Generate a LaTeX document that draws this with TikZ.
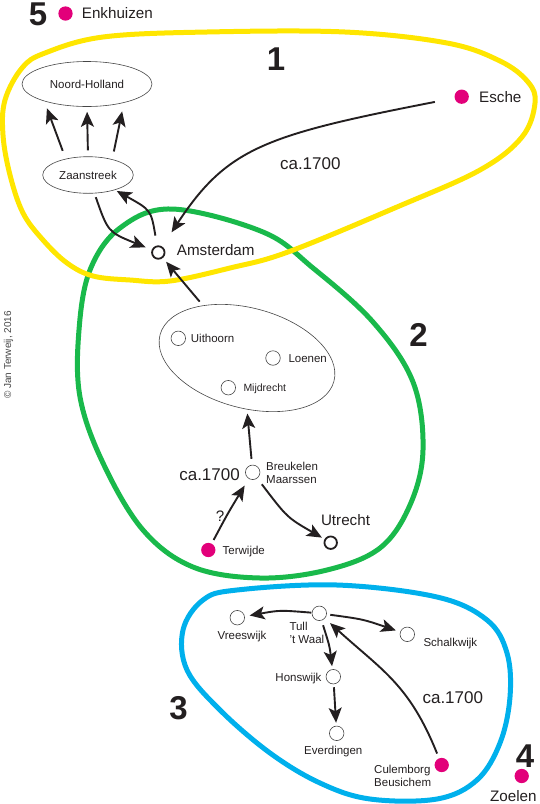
\documentclass[tikz,border=0pt]{standalone}
\usepackage{fontspec}
\setmainfont{Liberation Sans}
\usetikzlibrary{arrows.meta,shapes.geometric}
\definecolor{ylw}{RGB}{255,230,0}
\definecolor{grn}{RGB}{25,185,75}
\definecolor{blu}{RGB}{0,176,236}
\definecolor{mag}{RGB}{226,0,122}
\definecolor{ink}{RGB}{35,31,32}
\definecolor{ink2}{RGB}{70,70,70}
\begin{document}
\begin{tikzpicture}[x=1pt,y=-1pt,
  lbl/.style={inner sep=0pt, text=ink},
  sm/.style={lbl, font=\fontsize{11.5}{13}\selectfont, text height=8.2pt, text depth=0pt},
  sml/.style={lbl, font=\fontsize{11.5}{12.7}\selectfont, align=left},
  smc/.style={lbl, font=\fontsize{10.5}{12}\selectfont, text height=7.5pt, text depth=0pt},
  big/.style={lbl, font=\fontsize{15.2}{18}\selectfont, text height=10.9pt, text depth=0pt},
  ca/.style={lbl, font=\fontsize{17}{20}\selectfont, text height=12.2pt, text depth=0pt},
  num/.style={lbl, font=\fontsize{33}{36}\selectfont\bfseries, text height=23.6pt, text depth=0pt},
  ell/.style={ellipse, draw=ink2, line width=0.6pt, inner sep=1pt, text=ink, font=\fontsize{11.5}{13}\selectfont},
  oc/.style={circle, draw=ink2, line width=0.6pt, minimum size=14.5pt, inner sep=0pt},
  ocb/.style={circle, draw=ink, line width=1.8pt, minimum size=12.5pt, inner sep=0pt},
  dot/.style={circle, fill=mag, minimum size=14.3pt, inner sep=0pt},
  arr/.style={draw=ink, line width=1.9pt, -{Stealth[length=15pt,width=13pt,inset=3.5pt]}},
  loop/.style={line width=5pt}
]
\useasboundingbox (0,0) rectangle (540,804);

% loops
\draw[loop, grn] plot[smooth cycle, tension=0.6] coordinates {(172,209) (263,232) (313,268) (373,322) (413,382) (423,450) (410,505) (380,548) (327,570) (260,578) (193,567) (143,530) (103,463) (80,397) (79,330) (90,270) (120,228)};
\draw[loop, ylw] plot[smooth cycle, tension=0.6] coordinates {(5,100) (22,68) (45,53) (103,37) (207,32) (345,32) (447,43) (500,61) (528,82) (535,103) (522,137) (480,170) (397,207) (288,252) (230,268) (170,281) (130,280) (93,276) (67,263) (43,240) (23,213) (10,175) (3,135)};
\draw[loop, blu] plot[smooth cycle, tension=0.6] coordinates {(237,590) (337,585) (437,597) (487,620) (507,653) (510,697) (500,743) (477,780) (437,799) (370,799) (320,783) (270,753) (220,710) (187,670) (183,630) (203,600)};

% region 1
\node[num] (n5) at (38,13.5) {5};
\node[dot] (enk) at (65.5,13.5) {};
\node[big, anchor=west] (enkl) at (81.7,13.5) {Enkhuizen};
\node[num] (n1) at (276,58.5) {1};
\node[dot] (esche) at (461.7,96.7) {};
\node[big, anchor=west] (eschel) at (479,96.7) {Esche};
\node[ell, minimum width=130pt, minimum height=45pt] (nh) at (87,84) {Noord-Holland};
\node[ell, minimum width=90.6pt, minimum height=36.6pt] (zaan) at (88,175) {Zaanstreek};
\node[ca] (ca1) at (310.3,163.7) {ca.1700};
\node[ocb] (ams) at (158.3,252.5) {};
\node[big, anchor=west] (amsl) at (176.7,250.5) {Amsterdam};

% region 2
\node[ell, minimum width=180pt, minimum height=100pt, rotate=-15] (reg) at (247,358) {};
\node[oc] (uit) at (178.3,338.3) {};
\node[sm, anchor=west] (uitl) at (190.7,338) {Uithoorn};
\node[oc] (loe) at (273,358) {};
\node[sm, anchor=west] (loel) at (288.3,358) {Loenen};
\node[oc] (mij) at (228.3,387.7) {};
\node[smc, anchor=west] (mijl) at (243.3,388) {Mijdrecht};
\node[num] (n2) at (418.5,335) {2};
\node[oc] (bk) at (252.7,472.3) {};
\node[sml, anchor=north west] (bkl) at (266,461.8) {Breukelen\\Maarssen};
\node[ca, anchor=east] (ca2) at (240,474.7) {ca.1700};
\node[dot] (terw) at (208.3,550) {};
\node[sm, anchor=west] (terwl) at (222.5,550.7) {Terwijde};
\node[big] (q) at (220,516.5) {?};
\node[ocb] (utr) at (330.7,542.7) {};
\node[big] (utrl) at (345.5,520) {Utrecht};

% region 3
\node[num] (n3) at (178.5,707.5) {3};
\node[oc] (tull) at (319.3,613.3) {};
\node[sml, anchor=north west] (tulll) at (289.3,621.8) {Tull\\'t Waal};
\node[oc] (vrees) at (237.3,617.7) {};
\node[sm] (vreesl) at (242,635) {Vreeswijk};
\node[oc] (schalk) at (407.3,634.3) {};
\node[sm, anchor=west] (schalkl) at (423.3,642.2) {Schalkwijk};
\node[oc] (hons) at (333.3,676.7) {};
\node[sm, anchor=east] (honsl) at (321.7,677.8) {Honswijk};
\node[oc] (everd) at (336.7,733.3) {};
\node[sm] (everdl) at (333.3,750) {Everdingen};
\node[dot] (culem) at (441.7,765) {};
\node[sml, anchor=north west] (culeml) at (374,764.9) {Culemborg\\Beusichem};
\node[ca] (ca3) at (452.8,697.2) {ca.1700};

% region 4
\node[num] (n4) at (525,756) {4};
\node[dot] (zoel) at (521.7,776) {};
\node[big] (zoell) at (513.3,796) {Zoelen};

% copyright
\node[lbl, rotate=90, font=\fontsize{10}{12}\selectfont, text=ink2] (copy) at (8.5,355) {© Jan Terweij, 2016};

% connectors
\draw[arr, shorten <=8.5pt, shorten >=7.5pt] (zaan.144) -- (nh.202);
\draw[arr, shorten <=6pt, shorten >=5pt] (zaan.90) -- (nh.270);
\draw[arr, shorten <=7.9pt, shorten >=8.7pt] (zaan.33.5) -- (nh.333.4);
\draw[arr, shorten <=4pt, shorten >=6.5pt] (zaan) .. controls (108,232) .. (ams);
\draw[arr, shorten <=10pt, shorten >=2pt] (ams) .. controls (151,210) .. (zaan);
\draw[arr, shorten <=20pt, shorten >=17pt] (esche) .. controls (265,135) and (227,148) .. (ams);
\draw[arr, shorten <=5pt, shorten >=5pt] (reg.145) -- (ams);
\draw[arr, shorten <=6pt, shorten >=4pt] (bk) -- (reg.285);
\draw[arr, shorten <=4pt, shorten >=8pt] (terw) .. controls (227.5,513.9) .. (bk);
\draw[arr, shorten <=7.5pt, shorten >=3pt] (bk) .. controls (287.2,517.6) .. (utr);
\draw[arr, shorten <=0.5pt, shorten >=5pt] (tull) .. controls (279.9,610.1) .. (vrees);
\draw[arr, shorten <=3.5pt, shorten >=4.5pt] (tull) .. controls (362.9,619.2) .. (schalk);
\draw[arr, shorten <=5pt, shorten >=3pt] (tull) .. controls (329.6,646) .. (hons);
\draw[arr, shorten <=3pt, shorten >=3pt] (hons) -- (everd);
\draw[arr, shorten <=5pt, shorten >=7pt] (culem) .. controls (409.3,684.3) and (381.8,670.2) .. (tull);
\end{tikzpicture}
\end{document}
